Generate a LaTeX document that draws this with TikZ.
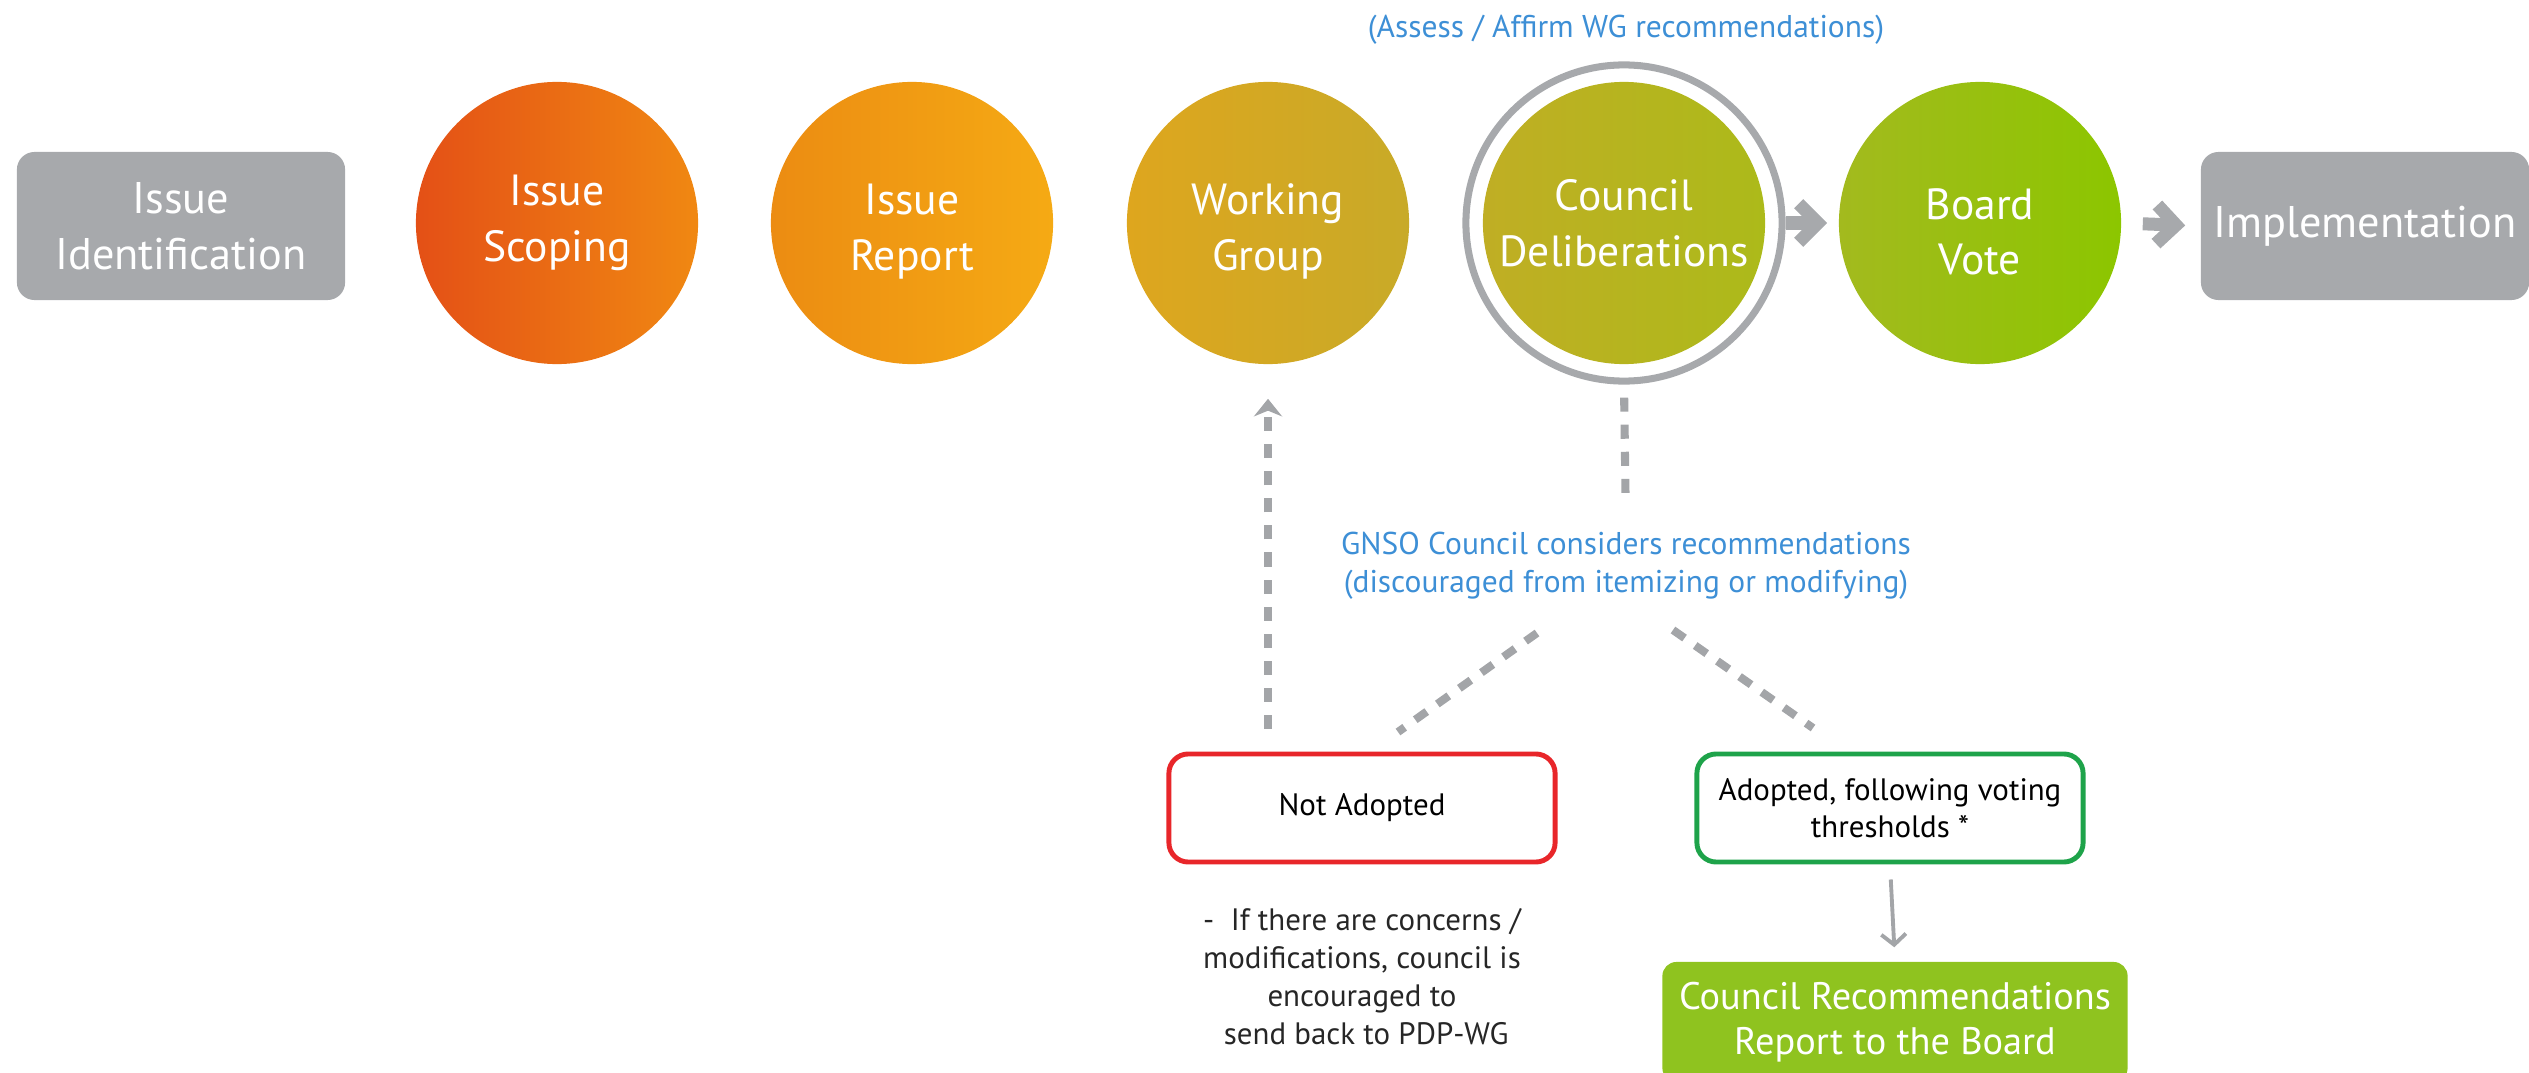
\documentclass[tikz,border=0pt]{standalone}
\usepackage{fontspec}
\setmainfont{PT Sans}
\usepackage{tikz}
\usetikzlibrary{arrows.meta, calc}

\definecolor{boxgray}{HTML}{A7A9AC}
\definecolor{linegray}{HTML}{A3A5A8}
\definecolor{noteblue}{HTML}{3D8FD6}
\definecolor{nored}{HTML}{E8262A}
\definecolor{yesgreen}{HTML}{1EA34A}
\definecolor{reclime}{HTML}{8FC31F}
% circle colours, left and right
\definecolor{scopeL}{HTML}{E45016}
\definecolor{scopeR}{HTML}{F08812}
\definecolor{reportL}{HTML}{EC8C12}
\definecolor{reportR}{HTML}{F5AA14}
\definecolor{wgL}{HTML}{DEA61E}
\definecolor{wgR}{HTML}{C8AA28}
\definecolor{councilL}{HTML}{C0AE24}
\definecolor{councilR}{HTML}{ACBA1A}
\definecolor{boardL}{HTML}{A3BA1E}
\definecolor{boardR}{HTML}{8CC600}

\tikzset{
    stage/.style={circle, minimum size=2.82cm, inner sep=0pt, text=white, align=center, font=\fontsize{12.4}{15.8}\selectfont},
    lowtext/.style={text height=29.5pt},
    endbox/.style={rectangle, rounded corners=5pt, fill=boxgray, text=white, minimum width=3.28cm, minimum height=1.48cm, inner sep=0pt, align=center, font=\fontsize{12.6}{15.8}\selectfont},
    ring/.style={circle, draw=boxgray, line width=2pt, minimum size=3.16cm, inner sep=0pt},
    bigarrow/.style={draw=boxgray, line width=3.7pt, -{Straight Barb[length=5.5pt, width=11pt]}},
    dashline/.style={draw=linegray, line width=2.3pt, dash pattern=on 4pt off 3.7pt},
    thinarrow/.style={draw=linegray, line width=1.1pt, -{Straight Barb[length=3pt, width=7pt]}},
    bluenote/.style={text=noteblue, inner sep=0pt, align=center, font=\fontsize{8.95}{10.8}\selectfont},
    outbox/.style={rectangle, rounded corners=5.5pt, line width=1.4pt, fill=white, minimum width=3.86cm, minimum height=1.08cm, inner sep=0pt, align=center, font=\fontsize{8.8}{10.6}\selectfont},
    smalltext/.style={inner sep=0pt, align=center, text=black!85, font=\fontsize{8.8}{10.8}\selectfont},
    recbox/.style={rectangle, rounded corners=4pt, fill=reclime, text=white, minimum width=4.65cm, minimum height=1.2cm, inner sep=0pt, align=center, font=\fontsize{10.9}{12.8}\selectfont}
}

\begin{document}
\begin{tikzpicture}[x=0.01cm, y=-0.01cm]
    \useasboundingbox (0,0) rectangle (2529,1073);

    % the process row
    \node[endbox] (ident) at (181,226) {Issue\\Identification};
    \node[stage, left color=scopeL, right color=scopeR] (scoping) at (557,223) {Issue\\Scoping};
    \node[stage, lowtext, left color=reportL, right color=reportR] (report) at (912,223) {Issue\\Report};
    \node[stage, lowtext, left color=wgL, right color=wgR] (wg) at (1268,223) {Working\\Group};
    \node[stage, left color=councilL, right color=councilR] (council) at (1624,223) {Council\\Deliberations};
    \node[ring] (ring) at (1624,223) {};
    \node[stage, lowtext, left color=boardL, right color=boardR] (board) at (1980,223) {Board\\Vote};
    \node[endbox] (impl) at (2365,226) {Implementation};

    \draw[bigarrow, shorten >=0.11cm] (ring.east) -- (board.west);
    \draw[bigarrow, shorten <=0.21cm, shorten >=0.15cm] (board.east) -- (impl.west);

    \node[bluenote] (assess) at (1626,30) {(Assess / Affirm WG recommendations)};

    % council decision
    \node[bluenote] (gnso) at (1626,566) {GNSO Council considers recommendations\\(discouraged from itemizing or modifying)};
    \draw[dashline, shorten <=0.13cm, shorten >=0.37cm] (ring.south) -- (gnso.north);

    \node[outbox, draw=nored] (notad) at (1362,808) {Not Adopted};
    \node[outbox, draw=yesgreen] (adopt) at (1890,808) {Adopted, following voting\\thresholds *};

    \coordinate (ltop) at (1537,633);
    \coordinate (lbot) at (1398,732);
    \coordinate (rtop) at (1673,630);
    \coordinate (rbot) at (1813,728);
    \draw[dashline] (ltop) -- (lbot);
    \draw[dashline] (rtop) -- (rbot);

    \coordinate (back) at (1268,729);
    \draw[dashline, -{Stealth[length=5pt, width=8pt]}, shorten >=0.34cm] (back) -- (wg.south);

    \node[smalltext] (notenote) at (1362,977) {-~~If there are concerns /\\modifications, council is\\encouraged to\\~send back to PDP-WG};

    \node[recbox] (rec) at (1895,1022) {Council Recommendations\\Report to the Board};
    \draw[thinarrow, shorten <=0.15cm, shorten >=0.14cm] (adopt.south) -- (rec.north);
\end{tikzpicture}
\end{document}
